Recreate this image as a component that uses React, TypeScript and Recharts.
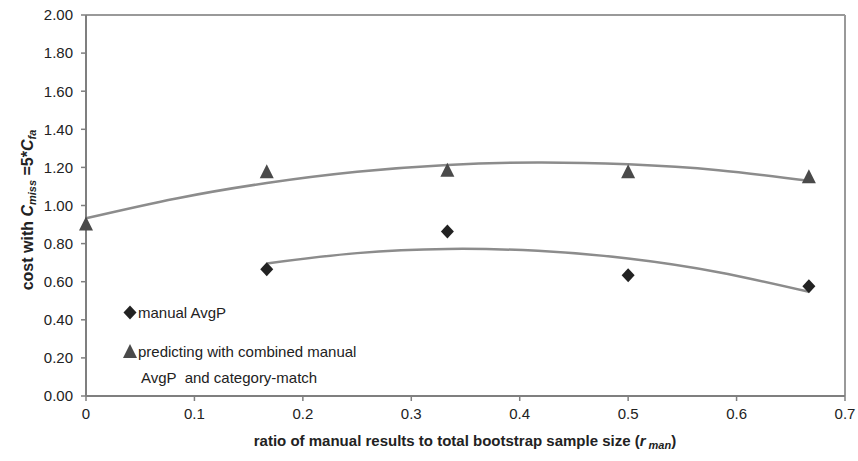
import React from "react";
import {
  ComposedChart,
  Line,
  Scatter,
  XAxis,
  YAxis,
  ReferenceLine,
} from "recharts";

// ---- data ----
const ratioPoints = [0, 0.1667, 0.3333, 0.5, 0.6667];
const manualAvgP = [null, 0.665, 0.864, 0.634, 0.576];
const combinedPrediction = [0.906, 1.18, 1.188, 1.18, 1.153];

// trend lines (polynomial trend)
const combinedTrendX = [0, 0.0833, 0.1667, 0.25, 0.3333, 0.4167, 0.5, 0.5833, 0.6667];
const combinedTrendY = [0.933, 1.037, 1.118, 1.177, 1.213, 1.226, 1.216, 1.185, 1.13];
const manualTrendX = [0.1667, 0.25, 0.3333, 0.4167, 0.5, 0.5833, 0.6667];
const manualTrendY = [0.696, 0.75, 0.772, 0.762, 0.722, 0.65, 0.547];

const xTicks = [0, 0.1, 0.2, 0.3, 0.4, 0.5, 0.6, 0.7];
const yTicks = [0, 0.2, 0.4, 0.6, 0.8, 1.0, 1.2, 1.4, 1.6, 1.8, 2.0];

const legendManual = "manual AvgP";
const legendCombined1 = "predicting with combined manual";
const legendCombined2 = "AvgP  and category-match";

const manualRows = ratioPoints
  .map((x, i) => ({ x, y: manualAvgP[i] }))
  .filter((r) => r.y !== null);
const combinedRows = ratioPoints.map((x, i) => ({ x, y: combinedPrediction[i] }));
const combinedTrendRows = combinedTrendX.map((x, i) => ({ x, t: combinedTrendY[i] }));
const manualTrendRows = manualTrendX.map((x, i) => ({ x, t: manualTrendY[i] }));

const FONT = "'Liberation Sans', Arial, sans-serif";
const DIAMOND_COLOR = "#222222";
const TRIANGLE_COLOR = "#4a4a4a";
const TREND_COLOR = "#8c8c8c";

const Diamond = (props: any) => {
  const { cx, cy } = props;
  if (cx == null || cy == null) return null;
  const r = 7;
  return (
    <polygon
      points={`${cx},${cy - r} ${cx + r - 0.5},${cy} ${cx},${cy + r} ${cx - r + 0.5},${cy}`}
      fill={DIAMOND_COLOR}
    />
  );
};

const Triangle = (props: any) => {
  const { cx, cy } = props;
  if (cx == null || cy == null) return null;
  const h = 14;
  const w = 14;
  return (
    <polygon
      points={`${cx},${cy - h / 2} ${cx + w / 2},${cy + h / 2} ${cx - w / 2},${cy + h / 2}`}
      fill={TRIANGLE_COLOR}
    />
  );
};

const XTitle = () => (
  <text
    x={465}
    y={446}
    textAnchor="middle"
    fontFamily={FONT}
    fontSize={15}
    fontWeight="bold"
    fill="#222"
  >
    ratio of manual results to total bootstrap sample size (
    <tspan fontStyle="italic">r</tspan>
    <tspan fontStyle="italic" fontSize={11} dy={3}>
      {" man"}
    </tspan>
    <tspan dy={-3}>)</tspan>
  </text>
);

const YTitle = () => (
  <text
    x={0}
    y={0}
    transform="translate(33,210) rotate(-90)"
    textAnchor="middle"
    fontFamily={FONT}
    fontSize={16}
    fontWeight="bold"
    fill="#222"
  >
    cost with <tspan fontStyle="italic">C</tspan>
    <tspan fontStyle="italic" fontSize={11} dy={3}>
      miss
    </tspan>
    <tspan dy={-3}> =5*</tspan>
    <tspan fontStyle="italic">C</tspan>
    <tspan fontStyle="italic" fontSize={11} dy={3}>
      fa
    </tspan>
  </text>
);

const LegendBox = () => (
  <svg
    width={300}
    height={100}
    style={{ position: "absolute", left: 115, top: 295, overflow: "visible" }}
  >
    <g transform="translate(15,17.5)">
      <polygon points="0,-7 6.5,0 0,7 -6.5,0" fill={DIAMOND_COLOR} />
    </g>
    <text x={23} y={23} fontFamily={FONT} fontSize={15} fill="#222">
      {legendManual}
    </text>
    <g transform="translate(15,56)">
      <polygon points="0,-7 7,7 -7,7" fill={TRIANGLE_COLOR} />
    </g>
    <text x={23} y={62} fontFamily={FONT} fontSize={15} fill="#222">
      {legendCombined1}
    </text>
    <text x={26} y={88} fontFamily={FONT} fontSize={15} fill="#222" style={{ whiteSpace: "pre" }}>
      {legendCombined2}
    </text>
  </svg>
);

export default function App() {
  return (
    <div
      style={{
        position: "absolute",
        left: 0,
        top: 0,
        width: 858,
        height: 461,
        background: "#fff",
      }}
    >
      <ComposedChart
        width={858}
        height={461}
        margin={{ top: 15, right: 13, bottom: 0, left: 0 }}
      >
        <XAxis
          type="number"
          dataKey="x"
          domain={[0, 0.7]}
          ticks={xTicks}
          interval={0}
          height={65}
          tickSize={5}
          tickMargin={7}
          tickFormatter={(v: number) => String(v)}
          tick={{ fontFamily: FONT, fontSize: 15, fill: "#222" }}
          axisLine={{ stroke: "#7f7f7f", strokeWidth: 2 }}
          tickLine={{ stroke: "#7f7f7f", strokeWidth: 1.5 }}
          label={<XTitle />}
        />
        <YAxis
          type="number"
          domain={[0, 2]}
          ticks={yTicks}
          interval={0}
          width={86}
          tickSize={5}
          tickMargin={8}
          tickFormatter={(v: number) => v.toFixed(2)}
          tick={{ fontFamily: FONT, fontSize: 15, fill: "#222" }}
          axisLine={{ stroke: "#7f7f7f", strokeWidth: 2 }}
          tickLine={{ stroke: "#7f7f7f", strokeWidth: 1.5 }}
          label={<YTitle />}
        />
        <ReferenceLine y={2} stroke="#999" strokeWidth={2} />
        <ReferenceLine x={0.7} stroke="#999" strokeWidth={2} />
        <Scatter
          name="manual AvgP"
          data={manualRows}
          dataKey="y"
          shape={<Diamond />}
          isAnimationActive={false}
        />
        <Scatter
          name="predicting with combined manual AvgP and category-match"
          data={combinedRows}
          dataKey="y"
          shape={<Triangle />}
          isAnimationActive={false}
        />
        <Line
          data={combinedTrendRows}
          dataKey="t"
          type="natural"
          stroke={TREND_COLOR}
          strokeWidth={2.5}
          dot={false}
          activeDot={false}
          isAnimationActive={false}
        />
        <Line
          data={manualTrendRows}
          dataKey="t"
          type="natural"
          stroke={TREND_COLOR}
          strokeWidth={2.5}
          dot={false}
          activeDot={false}
          isAnimationActive={false}
        />
      </ComposedChart>
      <LegendBox />
    </div>
  );
}
